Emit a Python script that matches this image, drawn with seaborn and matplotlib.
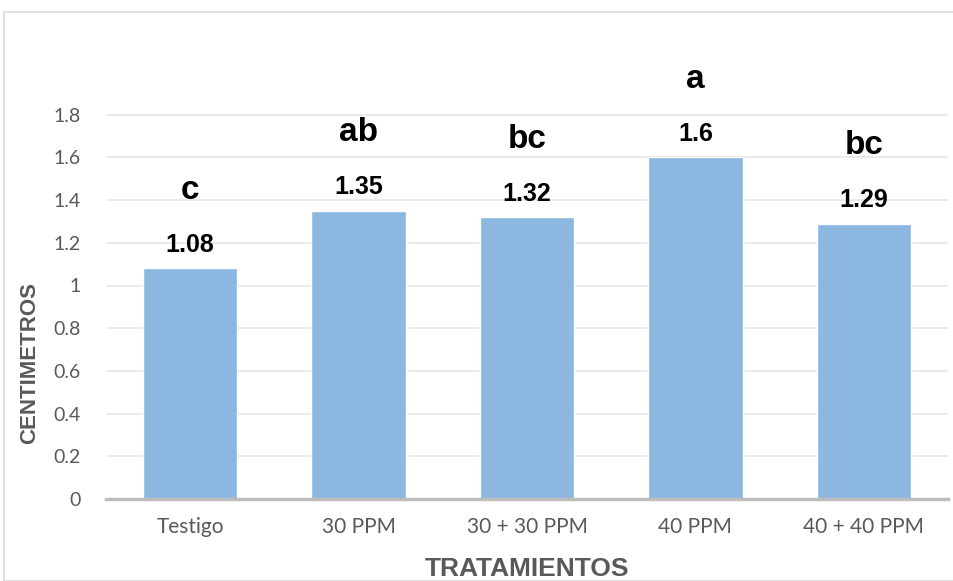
import matplotlib
matplotlib.use("Agg")
import matplotlib.pyplot as plt
import seaborn as sns
import pandas as pd
from matplotlib.patches import Rectangle

categories = ["Testigo", "30 PPM", "30 + 30 PPM", "40 PPM", "40 + 40 PPM"]
values = [1.08, 1.35, 1.32, 1.6, 1.29]
value_labels = ["1.08", "1.35", "1.32", "1.6", "1.29"]
letters = ["c", "ab", "bc", "a", "bc"]
yticks = [0, 0.2, 0.4, 0.6, 0.8, 1, 1.2, 1.4, 1.6, 1.8]
ytick_labels = ["0", "0.2", "0.4", "0.6", "0.8", "1", "1.2", "1.4", "1.6", "1.8"]

sns.set_theme(style="white")
plt.rcParams['font.family'] = ['Liberation Sans', 'DejaVu Sans']

df = pd.DataFrame({"cat": categories, "val": values})

fig = plt.figure(figsize=(9.54, 5.81), dpi=100)
ax = fig.add_axes([106/954, 82/581, (948-106)/954, (499-72)/581])

sns.barplot(data=df, x="cat", y="val", color="#8BB7E1", width=0.56,
            saturation=1, ax=ax, zorder=2)

ax.set_ylim(0, 2.0)
ax.set_xlim(-0.5, len(categories) - 0.5)
ax.set_yticks(yticks)
ax.set_yticklabels(ytick_labels)
ax.grid(axis="y", color="#EBEBEB", linewidth=1.5, zorder=0)
ax.grid(axis="x", visible=False)
for s in ["top", "right", "left"]:
    ax.spines[s].set_visible(False)
ax.spines["bottom"].set_color("#BDBDBD")
ax.spines["bottom"].set_linewidth(2.5)
ax.spines["bottom"].set_zorder(3)

ax.tick_params(axis="y", length=0, colors="#595959", labelsize=14, pad=18)
ax.tick_params(axis="x", length=0, colors="#595959", labelsize=15, pad=13)
for lab in ax.get_xticklabels() + ax.get_yticklabels():
    lab.set_family(["Lato", "DejaVu Sans"])
    lab.set_color("#595959")

ax.set_xlabel("TRATAMIENTOS", fontsize=19, fontweight="bold", color="#595959")
ax.xaxis.set_label_coords(0.5, -(576 - 499) / 427)
ax.xaxis.label.set_va("baseline")
ax.set_ylabel("CENTIMETROS", fontsize=16, fontweight="bold", color="#595959")
ax.yaxis.set_label_coords((40 - 106) / 842, (499 - 363) / 427)

for i, (v, vl, lt) in enumerate(zip(values, value_labels, letters)):
    ax.annotate(vl, (i, v), xytext=(0, 12), textcoords="offset points",
                ha="center", va="baseline", fontsize=18, fontweight="bold",
                color="black", annotation_clip=False)
    ax.annotate(lt, (i, v), xytext=(0, 50), textcoords="offset points",
                ha="center", va="baseline", fontsize=24, fontweight="bold",
                color="black", annotation_clip=False)

fig.patches.append(Rectangle((4/954, 0), 1.2, 1 - 12/581, transform=fig.transFigure,
                             fill=False, edgecolor="#D9D9D9", linewidth=1.2))

fig.savefig("out.png", dpi=100)
